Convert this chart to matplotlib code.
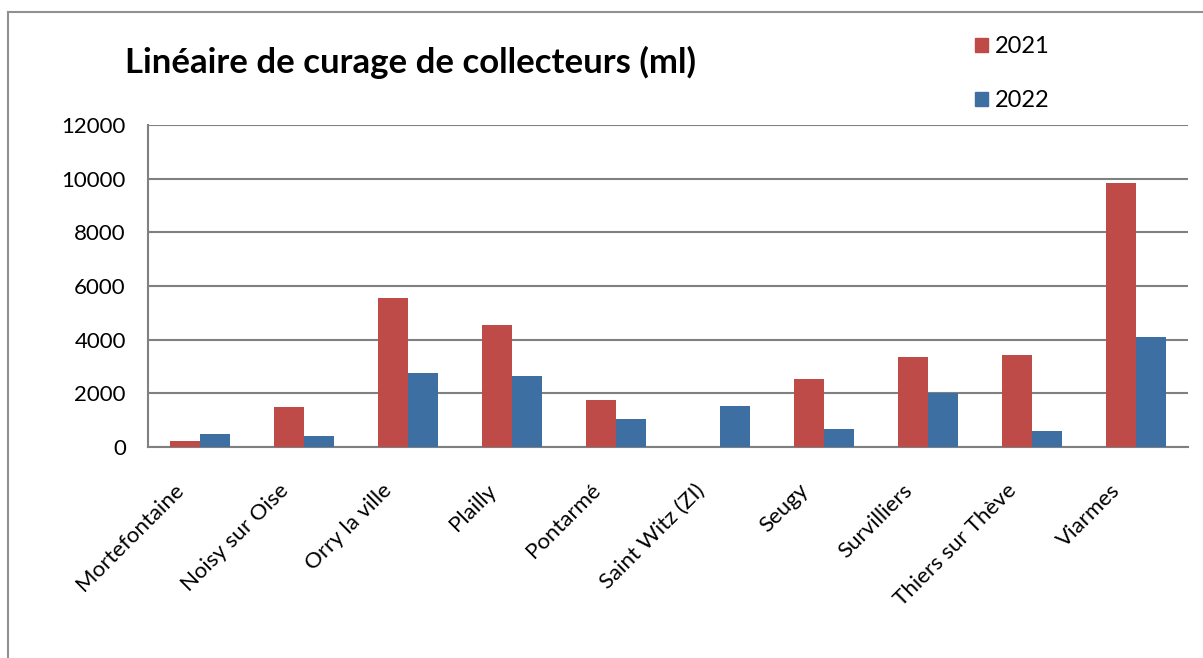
import matplotlib
matplotlib.use("Agg")
import matplotlib.pyplot as plt
import numpy as np
from matplotlib.patches import Patch
from matplotlib.lines import Line2D
from matplotlib.transforms import ScaledTranslation

communes = ["Mortefontaine", "Noisy sur Oise", "Orry la ville", "Plailly", "Pontarmé",
            "Saint Witz (ZI)", "Seugy", "Survilliers", "Thiers sur Thève", "Viarmes"]
ml_2021 = [210, 1480, 5550, 4560, 1770, 0, 2520, 3350, 3420, 9850]
ml_2022 = [480, 400, 2770, 2660, 1060, 1520, 670, 2010, 610, 4110]
yticks = [0, 2000, 4000, 6000, 8000, 10000, 12000]

RED, BLUE = "#BE4B48", "#3E6FA3"
plt.rcParams["font.family"] = ["Lato", "DejaVu Sans"]

fig = plt.figure(figsize=(12.03, 6.58), dpi=100)
ax = fig.add_axes([148/1203, 1-447/658, 1040/1203, 322/658])

x = np.arange(len(communes)); w = 0.29
ax.bar(x - w/2, ml_2021, w, color=RED, zorder=3)
ax.bar(x + w/2, ml_2022, w, color=BLUE, zorder=3)

ax.set_xlim(-0.5, len(communes) - 0.5)
ax.set_ylim(0, 12000)
ax.set_yticks(yticks)
ax.set_yticklabels([str(t) for t in yticks], fontsize=16)
ax.grid(axis="y", color="#808080", lw=1.5, zorder=0)
ax.tick_params(axis="y", length=0, pad=16)
ax.tick_params(axis="x", length=0, pad=24)
ax.set_xticks(x)
ax.set_xticklabels(communes, rotation=45, ha="right", rotation_mode="anchor", fontsize=16)
shift = ScaledTranslation(-0.26, 0, fig.dpi_scale_trans)
for lab in ax.get_xticklabels():
    lab.set_transform(lab.get_transform() + shift)
for s in ["top", "right"]:
    ax.spines[s].set_visible(False)
for s in ["left", "bottom"]:
    ax.spines[s].set_color("#808080"); ax.spines[s].set_linewidth(1.5)

fig.text(125/1203, 1-62/658, "Linéaire de curage de collecteurs (ml)", fontsize=25,
         fontweight="bold", va="center", ha="left")

# legend
fig.legend(handles=[Patch(color=RED, label="2021"), Patch(color=BLUE, label="2022")],
           loc="upper left", bbox_to_anchor=(954/1203, 1-15/658), frameon=False,
           fontsize=17, handlelength=0.55, handleheight=0.55, handletextpad=0.3, labelspacing=1.4)

# outer chart border
fig.add_artist(Line2D([8/1203, 8/1203], [0, 1-12/658], color="#909090", lw=1.5))
fig.add_artist(Line2D([8/1203, 1], [1-12/658, 1-12/658], color="#909090", lw=1.5))

plt.savefig("out.png", dpi=100)
